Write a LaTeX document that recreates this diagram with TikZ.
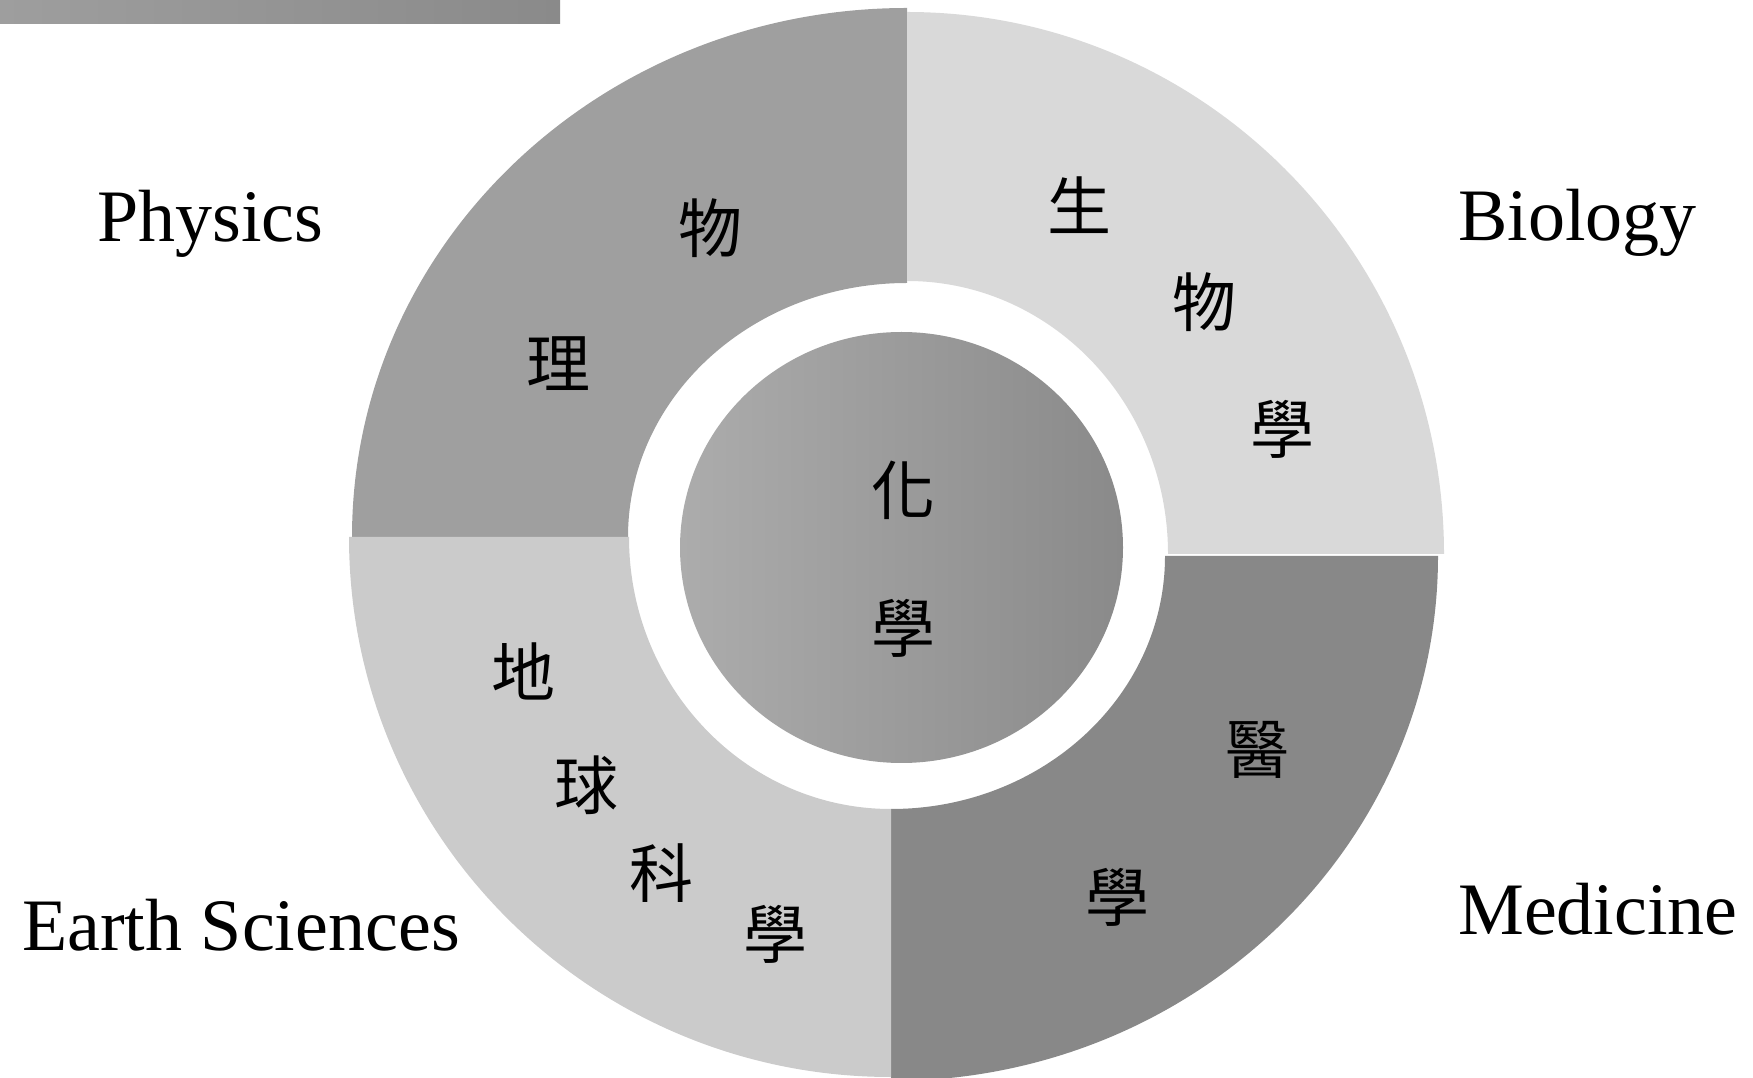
\documentclass[tikz,border=0pt]{standalone}
\usepackage{fontspec}
\setmainfont{Liberation Serif}
\newfontfamily\cjk{Noto Sans CJK TC}
\definecolor{physC}{RGB}{159,159,159}
\definecolor{bioC}{RGB}{217,217,217}
\definecolor{medC}{RGB}{136,136,136}
\definecolor{earthC}{RGB}{203,203,203}
\definecolor{chemL}{RGB}{172,172,172}
\definecolor{chemR}{RGB}{138,138,138}
\definecolor{barL}{RGB}{158,158,158}
\definecolor{barR}{RGB}{138,138,138}
\begin{document}
\begin{tikzpicture}[x=1pt,y=1pt,
  en/.style={anchor=base west,inner sep=0pt,font=\fontsize{74}{80}\selectfont},
  zh/.style={inner sep=0pt,font=\cjk\fontsize{64}{70}\selectfont}]
\useasboundingbox (0,0) rectangle (1753,1077);
\clip (0,0) rectangle (1753,1077);
% top bar
\shade[left color=barL,right color=barR] (0,1053) rectangle (560,1077);
% Physics quadrant (top-left)
\fill[physC] (352,540) arc[start angle=180,end angle=90,x radius=555pt,y radius=529pt]
  -- (907,794) arc[start angle=90,end angle=180,x radius=279pt,y radius=254pt] -- cycle;
% Biology quadrant (top-right)
\fill[bioC] (907,1065) arc[start angle=90,end angle=0,x radius=537pt,y radius=542pt]
  -- (1168,523) arc[start angle=0,end angle=90,x radius=261pt,y radius=273pt] -- cycle;
% Medicine quadrant (bottom-right)
\fill[medC] (1438,521) arc[start angle=0,end angle=-90,x radius=547pt,y radius=525pt]
  -- (891,268) arc[start angle=-90,end angle=0,x radius=274pt,y radius=253pt] -- cycle;
% Earth quadrant (bottom-left)
\fill[earthC] (891,0) arc[start angle=-90,end angle=-180,x radius=542pt,y radius=540pt]
  -- (629,540) arc[start angle=180,end angle=270,x radius=262pt,y radius=272pt] -- cycle;
% centre disc
\shade[left color=chemL,right color=chemR] (901.5,529.5) ellipse[x radius=221.5pt,y radius=215.5pt];
% English labels
\node[en] (physics) at (97,835) {Physics};
\node[en] (biology) at (1458,836) {Biology};
\node[en] (earth) at (22,127) {Earth Sciences};
\node[en] (medicine) at (1458,143) {Medicine};
% Chinese labels
\node[zh] (p1) at (710,849) {物};
\node[zh] (p2) at (558,713) {理};
\node[zh] (b1) at (1079,872) {生};
\node[zh] (b2) at (1204,775) {物};
\node[zh] (b3) at (1282,648) {學};
\node[zh] (c1) at (903,587) {化};
\node[zh] (c2) at (903,449) {學};
\node[zh] (e1) at (523,406) {地};
\node[zh] (e2) at (586,292) {球};
\node[zh] (e3) at (661,204) {科};
\node[zh] (e4) at (775,143) {學};
\node[zh] (m1) at (1257,327) {醫};
\node[zh] (m2) at (1117,180) {學};
\end{tikzpicture}
\end{document}
